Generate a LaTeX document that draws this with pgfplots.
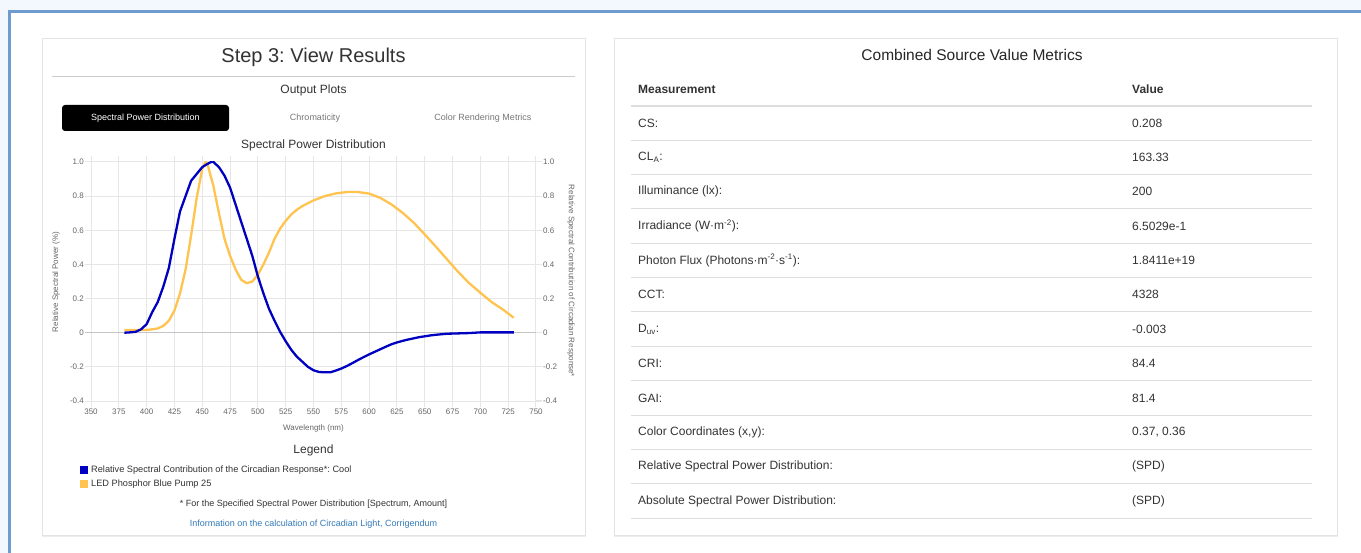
\documentclass[border=0pt]{standalone}
\usepackage{fontspec}
\setmainfont{Liberation Sans}
\usepackage{pgfplots}
\pgfplotsset{compat=1.18}
\frenchspacing
\definecolor{spdblue}{HTML}{0000C0}
\definecolor{spdorange}{HTML}{FFC44F}
\definecolor{gridc}{HTML}{E6E6E6}
\definecolor{zeroc}{HTML}{C4C4C4}
\definecolor{tickc}{HTML}{666666}
\definecolor{txt}{HTML}{333333}
\definecolor{tabgray}{HTML}{777777}
\definecolor{linkc}{HTML}{337AB7}
\definecolor{bordc}{HTML}{6F9BD1}
\definecolor{outbg}{HTML}{F2F8FE}
\definecolor{cardb}{HTML}{E3E3E3}
\definecolor{rowl}{HTML}{DDDDDD}
\newcommand\fs[1]{\fontsize{#1pt}{#1pt}\selectfont}
\begin{document}
\begin{tikzpicture}[x=1pt,y=-1pt]
\path[use as bounding box] (0,0) rectangle (1361,553);
\fill[outbg] (0,0) rectangle (1361,553);
\fill[white] (11,13) rectangle (1361,553);
\fill[bordc] (8,10) rectangle (1361,13);
\fill[bordc] (8,10) rectangle (11,553);
% cards
\fill[black!7] (42,39.5) rectangle (586,537);
\filldraw[fill=white,draw=cardb,line width=1pt] (42.5,38.5) rectangle (585.5,535.5);
\fill[black!7] (614,39.5) rectangle (1338,537);
\filldraw[fill=white,draw=cardb,line width=1pt] (614.5,38.5) rectangle (1337.5,535.5);
% left card header
\node[txt,font=\fs{20}] at (313.5,57) {Step 3: View Results};
\draw[black!20,line width=1pt] (52,76.5) -- (575,76.5);
\node[txt,font=\fs{12}] at (313.5,90) {Output Plots};
\fill[black,rounded corners=3pt] (62,105) rectangle (229,131);
\node[white,font=\fs{9}] at (145.5,118) {Spectral Power Distribution};
\node[tabgray,font=\fs{9}] at (315,118) {Chromaticity};
\node[tabgray,font=\fs{9}] at (483,118) {Color Rendering Metrics};
\node[txt,font=\fs{12}] at (313.5,145) {Spectral Power Distribution};
% axis labels
\node[tickc,font=\fs{8},rotate=90] at (56,282) {Relative Spectral Power (\%)};
\node[tickc,font=\fs{8},rotate=-90] at (571,281) {Relative Spectral Contribution of Circadian Response*};
\node[tickc,font=\fs{8}] at (313.5,428) {Wavelength (nm)};
\node[txt,font=\fs{12}] at (313.5,450) {Legend};
\node[txt,font=\fs{9}] at (313.5,504) {* For the Specified Spectral Power Distribution [Spectrum, Amount]};
\node[linkc,font=\fs{9}] at (313.5,524) {Information on the calculation of Circadian Light, Corrigendum};
\coordinate (AO) at (91,401);
% chart
\begin{scope}[y=1pt]
\begin{axis}[
  at={(AO)}, anchor=south west,
  scale only axis, width=445pt, height=239pt,
  xmin=350, xmax=750, ymin=-0.4, ymax=1.0,
  xtick={350,375,400,425,450,475,500,525,550,575,600,625,650,675,700,725,750},
  xticklabels={350,375,400,425,450,475,500,525,550,575,600,625,650,675,700,725,750},
  ytick={-0.4,-0.2,0,0.2,0.4,0.6,0.8,1.0},
  yticklabels={-0.4,-0.2,0,0.2,0.4,0.6,0.8,1.0},
  grid=major, grid style={gridc,line width=1pt},
  axis line style={draw=none},
  tick align=outside, major tick length=6pt,
  tick style={gridc,line width=1pt},
  ticklabel style={font=\fs{8},text=tickc},
  yticklabel style={inner sep=1pt},
  xticklabel style={inner sep=1.5pt},
  extra y ticks={0}, extra y tick labels={},
  extra y tick style={grid style={zeroc,line width=1pt},tick style={zeroc}},
  reverse legend,
  legend cell align=left,
  legend style={draw=none,fill=none,at={(-0.0247,-0.266)},anchor=north west,
    font=\fs{9.2},text=txt,row sep=3.5pt,inner sep=0pt,
    nodes={inner sep=1pt},
    /tikz/every odd column/.append style={column sep=2pt}},
]
\addplot[spdorange,line width=2.3pt,line join=round,
  legend image code/.code={\path[fill=spdorange,draw=none] (0pt,-4pt) rectangle (8pt,4pt);}]
 coordinates {(380,0.016) (390,0.016) (400,0.016) (405,0.02) (410,0.025) (415,0.04) (420,0.07) (425,0.13) (430,0.23) (435,0.37) (440,0.57) (445,0.79) (450,0.96) (453,1.0) (455,0.98) (460,0.86) (465,0.70) (470,0.55) (475,0.45) (480,0.37) (485,0.31) (490,0.29) (495,0.30) (500,0.34) (505,0.40) (510,0.47) (515,0.55) (520,0.61) (525,0.655) (530,0.693) (535,0.72) (540,0.742) (550,0.775) (560,0.80) (570,0.816) (580,0.824) (590,0.824) (600,0.815) (610,0.79) (620,0.752) (630,0.703) (640,0.645) (650,0.576) (660,0.504) (670,0.43) (680,0.356) (690,0.29) (700,0.234) (710,0.18) (720,0.137) (730,0.088)};
\addlegendentry{LED Phosphor Blue Pump 25}
\addplot[spdblue,line width=2.3pt,line join=round,
  legend image code/.code={\path[fill=spdblue,draw=none] (0pt,-4pt) rectangle (8pt,4pt);}]
 coordinates {(380,0) (385,0.002) (390,0.005) (395,0.02) (400,0.05) (405,0.12) (410,0.18) (415,0.27) (420,0.38) (425,0.55) (430,0.71) (435,0.80) (440,0.89) (445,0.93) (450,0.97) (455,0.99) (458,1.0) (460,1.0) (465,0.97) (470,0.92) (475,0.85) (480,0.75) (485,0.65) (490,0.55) (495,0.45) (500,0.33) (505,0.23) (510,0.14) (515,0.07) (520,0.005) (525,-0.05) (530,-0.10) (535,-0.14) (540,-0.17) (545,-0.20) (550,-0.22) (555,-0.23) (560,-0.232) (565,-0.232) (570,-0.222) (575,-0.21) (580,-0.195) (585,-0.178) (590,-0.16) (595,-0.143) (600,-0.127) (605,-0.112) (610,-0.097) (615,-0.082) (620,-0.068) (625,-0.057) (630,-0.048) (635,-0.04) (640,-0.033) (645,-0.026) (650,-0.021) (655,-0.016) (660,-0.012) (665,-0.009) (670,-0.006) (680,-0.004) (690,-0.002) (700,0.002) (710,0.002) (720,0.002) (730,0.002)};
\addlegendentry{Relative Spectral Contribution of the Circadian Response*: Cool}
\end{axis}
\begin{axis}[
  at={(AO)}, anchor=south west,
  scale only axis, width=445pt, height=239pt,
  xmin=350, xmax=750, ymin=-0.4, ymax=1.0,
  xtick=\empty,
  ytick={-0.4,-0.2,0,0.2,0.4,0.6,0.8,1.0},
  yticklabels={-0.4,-0.2,0,0.2,0.4,0.6,0.8,1.0},
  ytick pos=right,
  axis line style={draw=none},
  tick align=outside, major tick length=6pt,
  tick style={gridc,line width=1pt},
  ticklabel style={font=\fs{8},text=tickc},
  yticklabel style={inner sep=1pt},
]
\end{axis}
\end{scope}
% right card
\node[black!85,font=\fs{15.5}] at (972,55) {Combined Source Value Metrics};
\node[txt,font=\fs{12}\bfseries,anchor=west,inner sep=0pt] at (638,89) {Measurement};
\node[txt,font=\fs{12}\bfseries,anchor=west,inner sep=0pt] at (1132,89) {Value};
\fill[rowl] (631,105) rectangle (1312,107);
\foreach \lab/\val [count=\i from 0] in {
  {CS:}/{0.208},
  {CL\textsubscript{A}:}/{163.33},
  {Illuminance (lx):}/{200},
  {Irradiance (W·m\textsuperscript{-2}):}/{6.5029e-1},
  {Photon Flux (Photons·m\textsuperscript{-2}·s\textsuperscript{-1}):}/{1.8411e+19},
  {CCT:}/{4328},
  {D\textsubscript{uv}:}/{-0.003},
  {CRI:}/{84.4},
  {GAI:}/{81.4},
  {Color Coordinates (x,y):}/{0.37, 0.36},
  {Relative Spectral Power Distribution:}/{(SPD)},
  {Absolute Spectral Power Distribution:}/{(SPD)}}{
  \pgfmathsetmacro\yy{123+34.36*\i}
  \node[txt,font=\fs{12},anchor=west,inner sep=0pt] at (638,\yy) {\lab};
  \node[txt,font=\fs{12},anchor=west,inner sep=0pt] at (1132,\yy) {\val};
  \fill[rowl] (631,\yy+16.7) rectangle (1312,\yy+17.7);
}
\end{tikzpicture}
\end{document}
